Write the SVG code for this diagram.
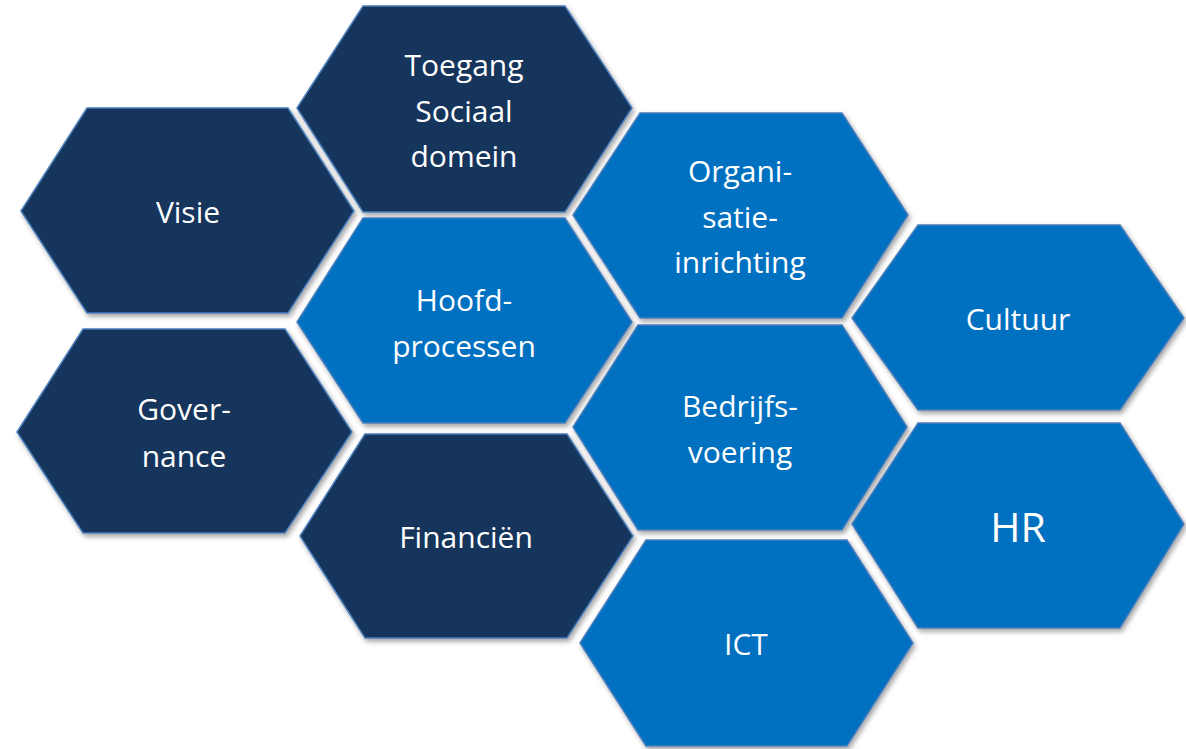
<svg xmlns="http://www.w3.org/2000/svg" width="1186" height="749" viewBox="0 0 1186 749">
<style>
.dark{fill:#17365D;stroke:#4A7EBB;stroke-width:1.5;filter:url(#sh)}
.blue{fill:#0070C0;stroke:#4A7EBB;stroke-width:1.5;filter:url(#sh)}
text{font-family:"Open Sans","Liberation Sans",sans-serif;font-size:30px;fill:#FFFFFF;text-anchor:middle}
.big{font-size:41px}
</style>
<defs>
<filter id="sh" x="-10%" y="-10%" width="125%" height="125%">
<feDropShadow dx="2" dy="3" stdDeviation="2.5" flood-color="#000" flood-opacity="0.35"/>
</filter>
</defs>
<rect width="1186" height="749" fill="#FFFFFF"/>
<g id="visie">
<polygon class="dark" points="87,108 288,108 354,211 288,313 87,313 21,211"/>
<text x="188" y="223">Visie</text>
</g>
<g id="toegang">
<polygon class="dark" points="363,6 565,6 632,108 565,212 363,212 297,108"/>
<text x="464" y="76">Toegang</text>
<text x="464" y="122">Sociaal</text>
<text x="464" y="167">domein</text>
</g>
<g id="governance">
<polygon class="dark" points="83,329 285,329 352,432 285,533 83,533 17,432"/>
<text x="184" y="420">Gover-</text>
<text x="184" y="467">nance</text>
</g>
<g id="hoofdprocessen">
<polygon class="blue" points="363,218 565,218 632,322 565,423 363,423 297,322"/>
<text x="464" y="311">Hoofd-</text>
<text x="464" y="357">processen</text>
</g>
<g id="financien">
<polygon class="dark" points="365,434 567,434 633,536 567,638 365,638 300,536"/>
<text x="466" y="548">Financiën</text>
</g>
<g id="organisatie">
<polygon class="blue" points="640,113 842,113 908,215 842,318 640,318 573,215"/>
<text x="740" y="182">Organi-</text>
<text x="740" y="228">satie-</text>
<text x="740" y="273">inrichting</text>
</g>
<g id="bedrijfsvoering">
<polygon class="blue" points="638,325 842,325 907,427 842,530 638,530 573,427"/>
<text x="740" y="417">Bedrijfs-</text>
<text x="740" y="463">voering</text>
</g>
<g id="ict">
<polygon class="blue" points="646,540 847,540 913,643 847,746 646,746 580,643"/>
<text x="746" y="655">ICT</text>
</g>
<g id="cultuur">
<polygon class="blue" points="918,225 1120,225 1184,318 1120,410 918,410 852,318"/>
<text x="1018" y="330">Cultuur</text>
</g>
<g id="hr">
<polygon class="blue" points="918,423 1120,423 1184,524 1120,628 918,628 852,524"/>
<text x="1018" y="542" class="big">HR</text>
</g>
<g id="connectors"/>
</svg>
